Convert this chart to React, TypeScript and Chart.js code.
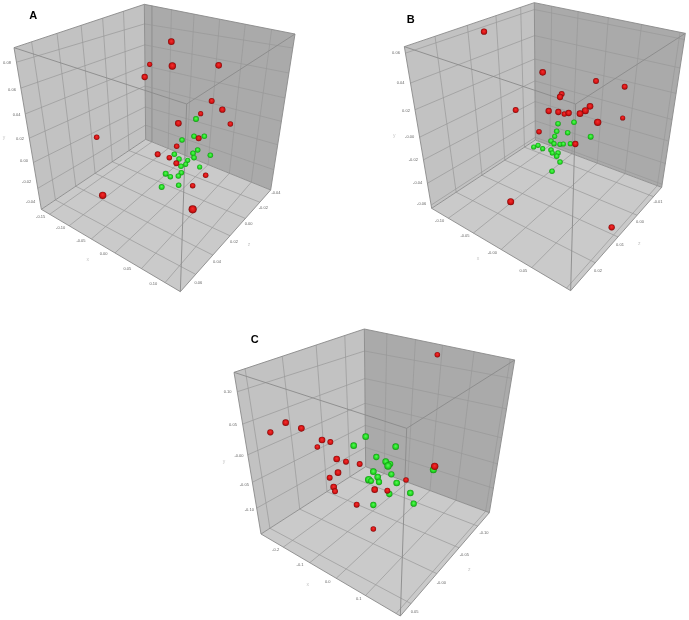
import React, { useEffect, useRef } from "react";
import { Chart, registerables } from "chart.js";

Chart.register(...registerables);

type P3 = [number, number, number];
type P2 = [number, number];

// Point readings: horizontal, vertical, depth (near = larger)
const redA: P3[] = [[514,125,9],[449,193,7],[517,198,10],[656,196,9],[434,231,8.5],[635,303,8],[667,329,8.5],[602,341,7],[535,370,9],[691,372,7.5],[290,412,7.5],[596,415,8],[530,439,7.5],[473,463,8],[508,473,7.5],[529,490,8],[617,526,7.5],[578,557,7.5],[308,586,10],[578,628,11]];
const greenA: P3[] = [[588,357,8],[582,409,7.5],[613,409,7.5],[546,420,7.5],[593,450,7.5],[579,460,7.5],[631,466,7.5],[523,463,7.5],[537,477,7.5],[582,473,7.5],[563,481,7],[557,493,7],[543,499,7.5],[599,501,7],[544,518,7.5],[497,521,8],[511,530,7.5],[535,528,7.5],[536,556,7.5],[485,561,8]];
const redB: P3[] = [[312,95,8.5],[488,217,9],[648,243,8],[734,260,8],[545,282,8],[540,291,8.5],[630,319,9],[616,332,9.5],[506,333,8.5],[535,336,8.5],[553,342,7.5],[566,339,8.5],[600,341,9],[407,330,8],[728,354,7],[653,367,10],[477,395,7.5],[586,432,8.5],[392,605,9.5],[695,682,8.5]];
const greenB: P3[] = [[534,371,7.5],[582,367,7.5],[530,394,7.5],[563,398,7.5],[524,409,7],[632,410,8],[513,423,7.5],[522,431,7],[540,433,7],[550,432,7],[571,431,7],[461,441,7],[474,436,7],[488,446,7],[513,450,7.5],[517,459,7],[534,459,7.5],[530,469,7.5],[540,486,7.5],[516,514,7.5]];
const redC: P3[] = [[682,104,7.5],[227,308,9],[181,337,8.5],[274,325,9],[336,360,9],[361,366,8],[322,381,7.5],[380,417,9],[408,425,8],[449,432,8],[674,439,10],[384,458,9],[359,473,8],[371,501,9],[375,514,8],[588,480,7.5],[494,509,9],[532,512,8],[440,554,8],[490,627,7.5]];
const greenC: P3[] = [[467,350,9],[431,377,9],[557,380,9],[499,411,8.5],[527,425,9],[541,432,8],[534,438,10],[670,449,9.5],[490,455,9],[544,463,8.5],[503,471,9],[476,479,10],[483,483,8],[507,486,8.5],[560,489,9],[538,522,8.5],[601,519,9],[611,551,8.5],[490,555,8.5]];

// Axis tick labels
const yTicksA = ["0.08","0.06","0.04","0.02","0.00","-0.02","-0.04"];
const xTicksA = ["-0.15","-0.10","-0.05","0.00","0.05","0.10"];
const zTicksA = ["0.06","0.04","0.02","0.00","-0.02","-0.04"];
const yTicksB = ["0.06","0.04","0.02","-0.00","-0.02","-0.04","-0.06"];
const xTicksB = ["-0.10","-0.05","-0.00","0.05"];
const zTicksB = ["0.02","0.01","0.00","-0.01"];
const yTicksC = ["0.10","0.05","-0.00","-0.05","-0.10"];
const xTicksC = ["-0.2","-0.1","0.0","0.1"];
const zTicksC = ["0.05","-0.00","-0.05","-0.10"];

interface Panel {
  title: string; ox: number; oy: number;
  titleAt: P2;
  apex: P2; lt: P2; rt: P2; ft: P2; fb: P2; lb: P2; rb: P2; bb: P2;
  leftV: number[]; rightV: number[]; hLeft: number[]; hBack: number[];
  floorV: number[]; floorX: number[];
  red: P3[]; green: P3[];
  y: [string[], P2[]]; x: [string[], P2[]]; z: [string[], P2[]];
  letters: [P2, P2, P2];
}

const panels: Panel[] = [
  {
    title: "A", ox: 0, oy: 0, titleAt: [100, 47],
    apex: [433,13], lt: [42,143], rt: [885,102], ft: [560,312], fb: [541,875], lb: [124,628], rb: [812,570], bb: [437,418],
    leftV: [.135,.33,.515,.68,.84], rightV: [.05,.18,.33,.5,.67,.845],
    hLeft: [.09,.25,.41,.56,.71,.87], hBack: [.145,.3,.455,.605,.76,.895],
    floorV: [.17,.36,.55,.72,.88], floorX: [.06,.2,.36,.53,.72,.89],
    red: redA, green: greenA,
    y: [yTicksA, [[21,190],[36,270],[50,346],[60,417],[72,482],[80,545],[92,605]]],
    x: [xTicksA, [[122,650],[182,685],[243,722],[311,763],[382,807],[460,853]]],
    z: [zTicksA, [[595,850],[651,785],[702,727],[746,673],[790,623],[828,580]]],
    letters: [[263,778],[12,412],[747,733]],
  },
  {
    title: "B", ox: 1140, oy: 0, titleAt: [92, 59],
    apex: [463,8], lt: [73,140], rt: [916,100], ft: [587,312], fb: [572,872], lb: [155,625], rb: [845,562], bb: [466,420],
    leftV: [.236,.485,.705,.895], rightV: [.115,.29,.49,.71,.965],
    hLeft: [.04,.225,.39,.56,.7,.845,.98], hBack: [.05,.24,.41,.57,.72,.86,.98],
    floorV: [.27,.52,.73,.91], floorX: [.12,.3,.5,.72,.97],
    red: redB, green: greenB,
    y: [yTicksB, [[48,160],[62,250],[78,332],[89,410],[100,481],[113,550],[125,613]]],
    x: [xTicksB, [[179,662],[255,708],[337,758],[430,813]]],
    z: [zTicksB, [[654,813],[720,735],[780,665],[834,605]]],
    letters: [[294,776],[43,408],[778,731]],
  },
  {
    title: "C", ox: 630, oy: 960, titleAt: [134, 60],
    apex: [463,27], lt: [72,157], rt: [914,120], ft: [590,325], fb: [571,888], lb: [153,642], rb: [838,578], bb: [467,440],
    leftV: [.085,.37,.63,.85], rightV: [.15,.34,.52,.73,.97],
    hLeft: [.12,.32,.51,.68,.84], hBack: [.16,.36,.54,.7,.86],
    floorV: [.12,.41,.66,.87], floorX: [.16,.35,.54,.75,.97],
    red: redC, green: greenC,
    y: [yTicksC, [[53,217],[69,316],[87,408],[103,494],[118,571]]],
    x: [xTicksC, [[197,690],[270,735],[353,785],[446,838]]],
    z: [zTicksC, [[614,877],[694,788],[763,706],[822,638]]],
    letters: [[293,795],[42,425],[778,750]],
  },
];

const mix = (a: P2, b: P2, t: number): P2 => [a[0] + (b[0] - a[0]) * t, a[1] + (b[1] - a[1]) * t];
const GAP = { x: NaN, y: NaN };

function gridLines(p: Panel) {
  const pts: { x: number; y: number }[] = [];
  const seg = (a: P2, b: P2) => {
    pts.push({ x: a[0] + p.ox, y: a[1] + p.oy }, { x: b[0] + p.ox, y: b[1] + p.oy }, GAP);
  };
  p.leftV.forEach((t) => seg(mix(p.lt, p.apex, t), mix(p.lb, p.bb, t)));
  p.rightV.forEach((t) => seg(mix(p.apex, p.rt, t), mix(p.bb, p.rb, t)));
  p.hLeft.forEach((t, i) => seg(mix(p.lt, p.lb, t), mix(p.apex, p.bb, p.hBack[i])));
  p.hLeft.forEach((t, i) => seg(mix(p.apex, p.bb, p.hBack[i]), mix(p.rt, p.rb, t)));
  p.leftV.forEach((t, i) => seg(mix(p.lb, p.bb, t), mix(p.fb, p.rb, p.floorV[i])));
  p.rightV.forEach((t, i) => seg(mix(p.bb, p.rb, t), mix(p.lb, p.fb, p.floorX[i])));
  return pts;
}

function edgeLines(p: Panel) {
  const pts: { x: number; y: number }[] = [];
  const run = (list: P2[]) => {
    list.forEach((c) => pts.push({ x: c[0] + p.ox, y: c[1] + p.oy }));
    pts.push(GAP);
  };
  run([p.lb, p.lt, p.apex, p.rt, p.rb, p.fb, p.lb]);
  run([p.apex, p.bb]);
  run([p.lb, p.bb, p.rb]);
  run([p.lt, p.ft, p.rt]);
  run([p.ft, p.fb]);
  return pts;
}

const spheres = (list: P3[], p: Panel) =>
  list.map((c) => ({ x: c[0] + p.ox, y: c[1] + p.oy, depth: c[2] }));

const SPHERE_SCALE = 0.37;

function sphereFill(stops: string[]) {
  return (ctx: any) => {
    const { chart, parsed, raw } = ctx;
    if (!parsed || !raw || !chart.chartArea) return stops[1];
    const cx = chart.scales.x.getPixelForValue(parsed.x);
    const cy = chart.scales.y.getPixelForValue(parsed.y);
    const r = raw.depth * SPHERE_SCALE;
    if (!Number.isFinite(cx) || !Number.isFinite(cy)) return stops[1];
    const g = chart.ctx.createRadialGradient(cx, cy - r * 0.2, 0, cx, cy, r);
    g.addColorStop(0, stops[0]);
    g.addColorStop(0.6, stops[1]);
    g.addColorStop(1, stops[2]);
    return g;
  };
}

// Zero until the layout exists, so that the plot area fills the whole canvas.
const radius = (ctx: any) => (ctx.raw && ctx.chart.chartArea ? ctx.raw.depth * SPHERE_SCALE : 0);

const boxPlugin = {
  id: "box",
  beforeDatasetsDraw(chart: any) {
    const { ctx, scales } = chart;
    const poly = (p: Panel, list: P2[], fill: string) => {
      ctx.beginPath();
      list.forEach((c, i) => {
        const x = scales.x.getPixelForValue(c[0] + p.ox);
        const y = scales.y.getPixelForValue(c[1] + p.oy);
        if (i) ctx.lineTo(x, y);
        else ctx.moveTo(x, y);
      });
      ctx.closePath();
      ctx.fillStyle = fill;
      ctx.fill();
    };
    panels.forEach((p) => {
      poly(p, [p.apex, p.lt, p.lb, p.bb], "#c2c2c2");
      poly(p, [p.apex, p.rt, p.rb, p.bb], "#aaaaaa");
      poly(p, [p.bb, p.lb, p.fb, p.rb], "#cacaca");
    });
  },
  afterDatasetsDraw(chart: any) {
    const { ctx, scales } = chart;
    const put = (p: Panel, c: P2, s: string) =>
      ctx.fillText(s, scales.x.getPixelForValue(c[0] + p.ox), scales.y.getPixelForValue(c[1] + p.oy));
    ctx.save();
    ctx.textAlign = "center";
    ctx.textBaseline = "middle";
    panels.forEach((p) => {
      ctx.font = "4px 'Liberation Sans'";
      ctx.fillStyle = "#666666";
      [p.x, p.y, p.z].forEach(([labels, at]) => labels.forEach((s, i) => put(p, at[i], s)));
      ctx.font = "5px 'Liberation Sans'";
      ctx.fillStyle = "#c4c4c4";
      ["x", "y", "z"].forEach((s, i) => put(p, p.letters[i], s));
      ctx.font = "bold 11px 'Liberation Sans'";
      ctx.fillStyle = "#000000";
      put(p, p.titleAt, p.title);
    });
    ctx.restore();
  },
};

export default function App() {
  const ref = useRef<HTMLCanvasElement>(null);
  useEffect(() => {
    const reds = panels.map((p) => ({
      data: spheres(p.red, p),
      pointRadius: radius,
      pointBorderWidth: 0,
      pointBackgroundColor: sphereFill(["#f23030", "#d81414", "#820a0a"]),
    }));
    const greens = panels.map((p) => ({
      data: spheres(p.green, p),
      pointRadius: radius,
      pointBorderWidth: 0,
      pointBackgroundColor: sphereFill(["#5cf85c", "#24dc24", "#149614"]),
    }));
    const edges = panels.map((p) => ({
      data: edgeLines(p),
      showLine: true,
      spanGaps: false,
      pointRadius: 0,
      pointBorderWidth: 0,
      borderColor: "#8a8a8a",
      borderWidth: 0.9,
    }));
    const grids = panels.map((p) => ({
      data: gridLines(p),
      showLine: true,
      spanGaps: false,
      pointRadius: 0,
      pointBorderWidth: 0,
      borderColor: "#989898",
      borderWidth: 0.7,
    }));
    const chart = new Chart(ref.current as HTMLCanvasElement, {
      type: "scatter",
      data: { datasets: [...reds, ...greens, ...edges, ...grids] as any },
      options: {
        animation: false,
        responsive: false,
        events: [],
        layout: { padding: 0 },
        plugins: { legend: { display: false }, tooltip: { enabled: false } },
        scales: {
          x: { type: "linear", min: 0, max: 2067, display: false },
          y: { type: "linear", min: 0, max: 1860, reverse: true, display: false },
        },
      },
      plugins: [boxPlugin],
    });
    return () => chart.destroy();
  }, []);
  return (
    <div style={{ position: "absolute", left: 0, top: 0, width: 689, height: 620, background: "#fff" }}>
      <canvas ref={ref} width={689} height={620} style={{ display: "block" }} />
    </div>
  );
}
